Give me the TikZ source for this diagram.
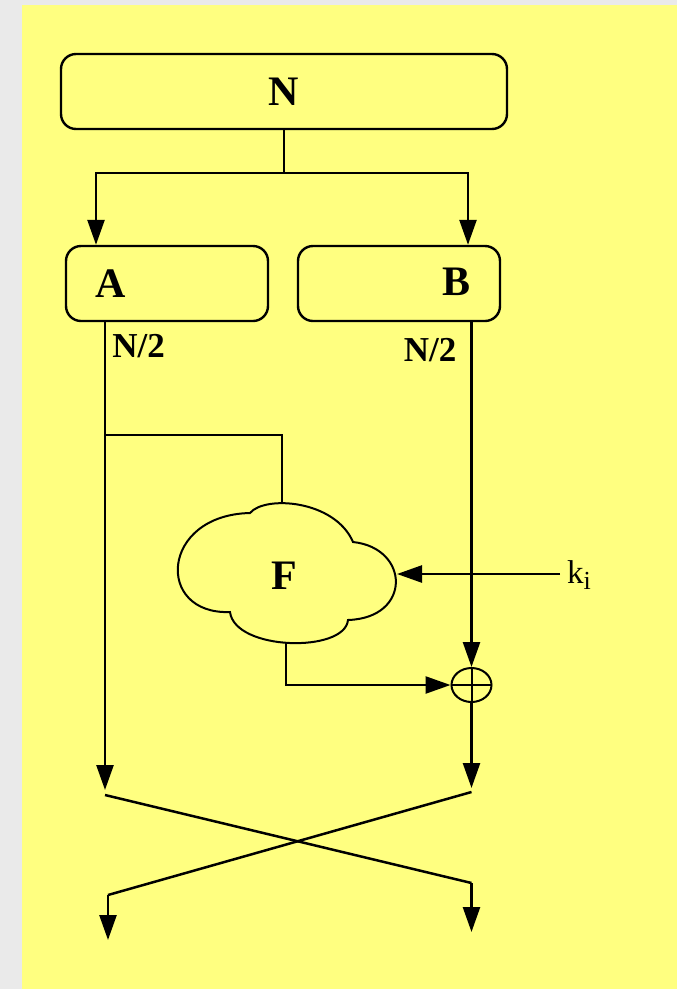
\documentclass[tikz,border=0pt]{standalone}
\usepackage{fontspec}
\setmainfont{Liberation Serif}
\usetikzlibrary{arrows.meta,shapes.geometric,calc}
\definecolor{bggray}{RGB}{234,234,234}
\definecolor{bgyellow}{RGB}{255,255,128}
\tikzset{
  conn/.style={line width=2.5pt, draw=black},
  arr/.style={conn, -{Triangle[length=25pt,width=17pt]}},
  box/.style={draw=black, line width=2.4pt, rounded corners=15pt, inner sep=0pt},
  lbl/.style={font=\fontsize{42}{42}\selectfont\bfseries, inner sep=0pt},
  half/.style={font=\fontsize{35}{35}\selectfont\bfseries, inner sep=0pt},
  cloudline/.style={draw=black, line width=2pt},
}
\begin{document}
\begin{tikzpicture}[x=1pt,y=-1pt]
\useasboundingbox (0,0) rectangle (677,989);
\fill[bggray] (0,0) rectangle (677,989);
\fill[bgyellow] (22,5) rectangle (677,989);

% boxes
\node[box, minimum width=446pt, minimum height=75pt, font=\fontsize{42}{42}\selectfont\bfseries] (N) at (284,91.5) {N};
\node[box, minimum width=202pt, minimum height=75pt] (A) at (167,283.5) {};
\node[box, minimum width=202pt, minimum height=75pt] (B) at (399,283.5) {};
\node[lbl, anchor=base] (At) at (111,297) {A};
\node[lbl, anchor=base] (Bt) at (456.5,295) {B};
\node[half, anchor=base] (h1) at (138.5,357) {N/2};
\node[half, anchor=base] (h2) at (430,361) {N/2};

% cloud F
\draw[cloudline] (250,513) .. controls (265,495) and (335,500) .. (353,542)
  .. controls (410,548) and (412,618) .. (348,620)
  .. controls (345,653) and (235,651) .. (230,612)
  .. controls (155,615) and (160,515) .. (250,513) -- cycle;
\node[lbl, anchor=base] (F) at (284.5,589) {F};
\coordinate (Ftop) at (282,502);
\coordinate (Fbot) at (286,643);
\coordinate (Fright) at (397,574);

% xor
\node[draw=black, line width=2pt, ellipse, minimum width=40pt, minimum height=34pt, inner sep=0pt,
  path picture={\draw[line width=2pt] (path picture bounding box.west) -- (path picture bounding box.east)
  (path picture bounding box.north) -- (path picture bounding box.south);}] (X) at (471.5,685) {};

% key
\coordinate (kin) at (560,574);
\node[anchor=base west, inner sep=0pt, font=\fontsize{33}{33}\selectfont] (k) at (567,583) {k\raisebox{-6pt}{\fontsize{26}{26}\selectfont i}};

% splitting
\coordinate (split) at (284,173);
\coordinate (aL) at (96,173);
\coordinate (aR) at (468,173);
\draw[conn] (N.south) -- (split);
\draw[arr] (split) -- (aL) -- (aL |- A.north);
\draw[arr] (split) -- (aR) -- (aR |- B.north);

% left branch
\coordinate (Aout) at (105,321);
\coordinate (Lbr) at (105,435);
\coordinate (Lend) at (105,790);
\draw[arr] (Aout) -- (Lend);
\draw[conn] (Lbr) -- (Lbr -| Ftop) -- (Ftop);

% right branch
\coordinate (Bout) at (471.5,321);
\draw[arr] (Bout) -- (X.north);
\draw[arr] (kin) -- (Fright);
\draw[arr] (Fbot) |- (X.west);
\coordinate (Rend) at (471.5,788);
\draw[arr] (X.south) -- (Rend);

% swap
\coordinate (L1) at (105,795);
\coordinate (R1) at (471.5,792);
\coordinate (L2) at (108,895);
\coordinate (R2) at (471.5,883);
\coordinate (L3) at (108,940);
\coordinate (R3) at (471.5,932);
\draw[conn] (L1) -- (R2);
\draw[conn] (R1) -- (L2);
\draw[arr] (L2) -- (L3);
\draw[arr] (R2) -- (R3);
\end{tikzpicture}
\end{document}
